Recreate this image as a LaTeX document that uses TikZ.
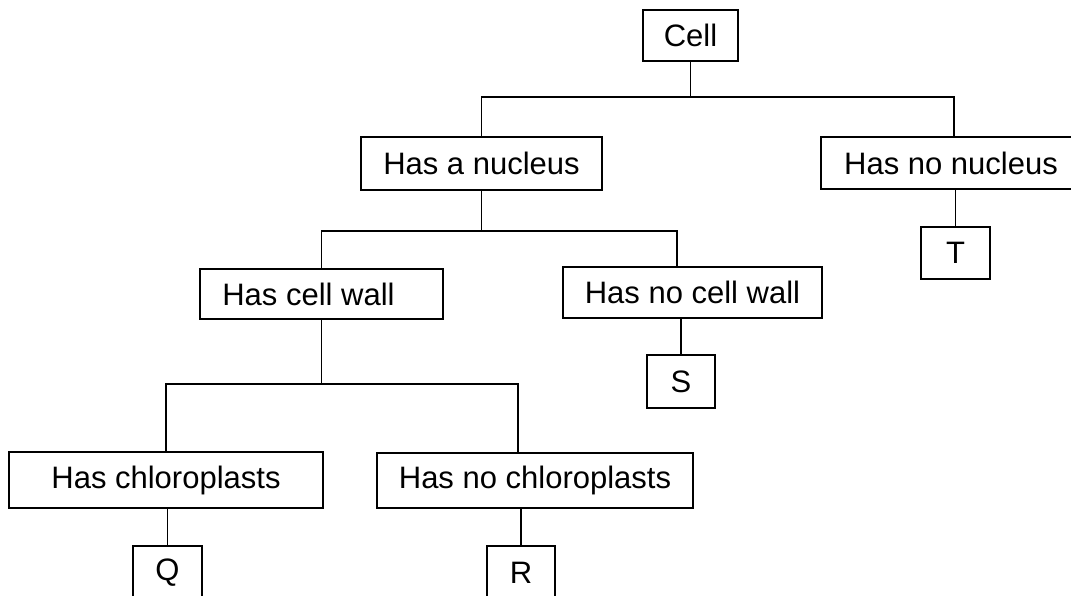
\documentclass[tikz,border=0pt]{standalone}
\usepackage{fontspec}
\setmainfont{Liberation Sans}
\begin{document}
\begin{tikzpicture}[x=1pt,y=-1pt,line width=1.9pt,
  box/.style={draw,rectangle,inner sep=0pt,anchor=center,font=\fontsize{31}{37}\selectfont},
  link/.style={draw,line cap=rect}]
\clip (0,0) rectangle (1071,596);
\fill[white] (0,0) rectangle (1071,596);
% nodes
\node[box,minimum width=95pt,minimum height=51pt] (cell) at (690.5,35.5) {Cell};
\node[box,minimum width=241pt,minimum height=53pt] (hn) at (481.5,163.5) {Has a nucleus};
\node[box,minimum width=266pt,minimum height=52pt] (hnn) at (954,163) {Has no nucleus\kern6pt\relax};
\node[box,minimum width=243pt,minimum height=50pt] (hcw) at (321.5,294) {Has cell wall\kern26pt\relax};
\node[box,minimum width=259pt,minimum height=51pt] (hncw) at (692.5,292.5) {Has no cell wall};
\node[box,minimum width=68pt,minimum height=53pt] (s) at (681,381.5) {S};
\node[box,minimum width=69pt,minimum height=52pt] (t) at (955.5,253) {T};
\node[box,minimum width=314pt,minimum height=56pt] (hc) at (166,480) {Has chloroplasts};
\node[box,minimum width=316pt,minimum height=55pt] (hnc) at (535,480.5) {Has no chloroplasts};
\node[box,minimum width=69pt,minimum height=54pt] (q) at (167.5,573) {Q};
\node[box,minimum width=68pt,minimum height=54pt] (r) at (521,573) {R};
% junctions
\coordinate (j1) at (692,97);
\coordinate (j2) at (480,231);
\coordinate (j3) at (323,384);
\coordinate (hncwtop) at ([xshift=-15.5pt]hncw.north);
\coordinate (hnctop) at ([xshift=-17pt]hnc.north);
% connectors
\draw[link] (cell.south) -- (cell.south |- j1);
\draw[link] (hn.north) -- (hn.north |- j1) -- (hnn.north |- j1) -- (hnn.north);
\draw[link] (hn.south) -- (hn.south |- j2);
\draw[link] (hcw.north) -- (hcw.north |- j2) -- (hncwtop |- j2) -- (hncwtop);
\draw[link] (hcw.south) -- (hcw.south |- j3);
\draw[link] (hc.north) -- (hc.north |- j3) -- (hnctop |- j3) -- (hnctop);
\draw[link] (t.north) -- (t.north |- hnn.south);
\draw[link] (s.north) -- (s.north |- hncw.south);
\draw[link] (q.north) -- (q.north |- hc.south);
\draw[link] (r.north) -- (r.north |- hnc.south);
\end{tikzpicture}
\end{document}
